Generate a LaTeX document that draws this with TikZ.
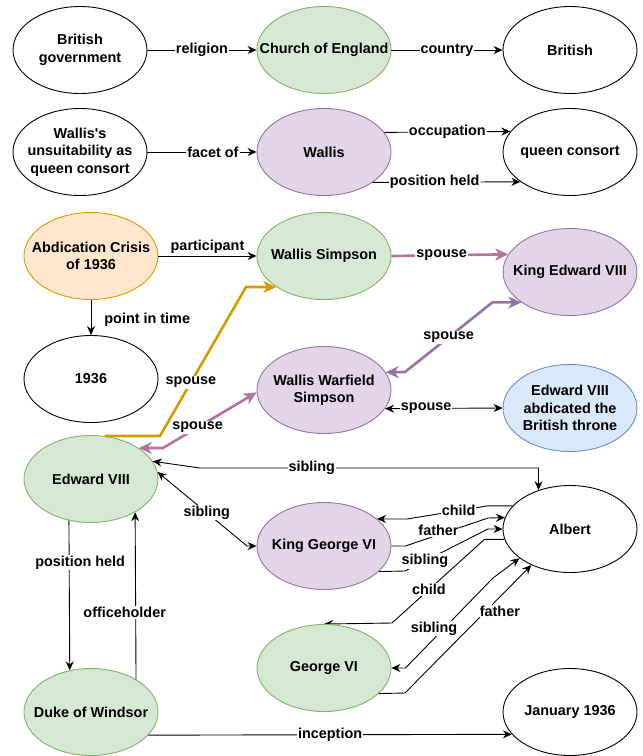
\documentclass[tikz,border=0pt]{standalone}
\usepackage{fontspec}
\setmainfont{Liberation Sans}
\usetikzlibrary{shapes.geometric,arrows.meta}
\pgfdeclarelayer{background}
\pgfsetlayers{background,main}
\definecolor{gfill}{HTML}{D5E8D4}\definecolor{gline}{HTML}{82B366}
\definecolor{pfill}{HTML}{E1D5E7}\definecolor{pline}{HTML}{9673A6}
\definecolor{ofill}{HTML}{FFE6CC}\definecolor{oline}{HTML}{D79B00}
\definecolor{bfill}{HTML}{DAE8FC}\definecolor{bline}{HTML}{6C8EBF}
\definecolor{pinkE}{HTML}{B5739D}
\begin{document}
\begin{tikzpicture}[x=1pt,y=-1pt,
  txt/.style={align=center,font=\bfseries\fontsize{14.4}{17.4}\selectfont,inner sep=0pt},
  wnode/.style={ellipse,draw=black,fill=white,line width=0.9pt,minimum width=134pt,minimum height=87pt,inner sep=0pt,label={[txt]center:#1}},
  gnode/.style={wnode={#1},fill=gfill,draw=gline},
  pnode/.style={wnode={#1},fill=pfill,draw=pline},
  onode/.style={wnode={#1},fill=ofill,draw=oline},
  bnode/.style={wnode={#1},fill=bfill,draw=bline},
  lbl/.style={fill=white,inner sep=1pt,font=\bfseries\fontsize{14.4}{17.4}\selectfont},
  tip/.tip={Stealth[length=9pt,width=8pt,inset=3pt]},
  btip/.tip={Stealth[length=13pt,width=12pt,inset=4pt]},
  arr/.style={line width=0.9pt,-tip},
  darr/.style={line width=0.9pt,tip-tip},
  thk/.style={line width=2.6pt,-btip},
  dthk/.style={line width=2.6pt,btip-btip}
]
\useasboundingbox (0,0) rectangle (643,756);

% nodes
\node[wnode={British\\government}] (bg) at (80,50) {};
\node[gnode={Church of England}] (coe) at (324,50) {};
\node[wnode={British}] (brit) at (570,50) {};
\node[wnode={Wallis\textquotesingle s\\unsuitability as\\queen consort}] (wu) at (80,152) {};
\node[pnode={Wallis}] (wal) at (324,152) {};
\node[wnode={queen consort}] (qc) at (570,152) {};
\node[onode={Abdication Crisis\\of 1936}] (ac) at (91,256) {};
\node[wnode={1936}] (y36) at (91,379) {};
\node[gnode={Wallis Simpson}] (ws) at (324,256) {};
\node[pnode={King Edward VIII}] (ke8) at (570,272) {};
\node[pnode={Wallis Warfield\\Simpson}] (wws) at (324,390) {};
\node[bnode={Edward VIII\\abdicated the\\British throne}] (ev8a) at (570,408) {};
\node[gnode={Edward VIII}] (ed8) at (91,479) {};
\node[pnode={King George VI}] (kg6) at (324,546) {};
\node[wnode={Albert}] (alb) at (570,529) {};
\node[gnode={George VI}] (g6) at (324,668) {};
\node[gnode={Duke of Windsor}] (duke) at (91,712) {};
\node[wnode={January 1936}] (jan) at (570,712) {};

% top rows
\draw[arr] (bg) -- node[lbl]{religion} (coe);
\draw[arr] (coe) -- node[lbl]{country} (brit);
\draw[arr] (wu) -- node[lbl,pos=0.6]{facet of} (wal);
\draw[arr] (wal.18.4) -- node[lbl]{occupation} (qc.161.6);
\draw[arr] (wal.328.7) -- node[lbl,pos=0.42]{position held} (qc.211.3);

% abdication
\draw[arr] (ac) -- node[lbl,above=1pt,fill=none]{participant} (ws);
\draw[arr] (ac) -- node[lbl,anchor=west,xshift=12pt,yshift=-2pt,fill=none]{point in time} (y36);

% spouse edges
\draw[thk,pinkE] (ws.east) -- node[lbl,pos=0.43,text=black]{spouse} (ke8.164.7);
\draw[dthk,pline] (ke8.212) -- ++(-29,0) -- node[lbl,text=black]{spouse} (405,372) -- (wws.16);
\draw[darr] (wws.343.7) -- node[lbl,pos=0.35]{spouse} (ev8a.west);
\draw[thk,oline] (ed8.72) -- ++(55,0) -- node[lbl,pos=0.36,text=black]{spouse} (246,287) -- (ws.213);
\draw[dthk,pinkE] (ed8.33) -- (163,448) -- node[lbl,pos=0.37,text=black]{spouse} (wws.182);

% Edward VIII relations
\coordinate (sibrow) at (0,468);
\draw[darr] (ed8.16) -- (200,468) -- node[lbl,pos=0.33]{sibling} (alb.129.4 |- sibrow) -- (alb.129.4);
\draw[darr] (ed8.6) -- node[lbl,pos=0.55]{sibling} (247,546) -- (kg6.west);
\draw[arr] (ed8.242.1) -- node[lbl,pos=0.28,xshift=11pt]{position held} (duke.117.9);
\draw[arr] (duke.36.1) -- node[lbl,pos=0.4,xshift=-11pt]{officeholder} (ed8.323.9);
\draw[arr] (duke.338.2) -- node[lbl]{inception} (jan.201.8);

% Albert relations
\draw[arr] (alb.158.4) -- ++(-25,0) -- node[lbl,pos=0.36]{child} (407,519) -- (kg6.27);
\draw[arr] (kg6.east) -- ++(14,0) -- node[lbl,pos=0.4,yshift=4pt]{father} (488,518) -- (alb.170.5);
\draw[arr] (kg6.335.8) -- (405,571) -- node[lbl,pos=0.24]{sibling} (488,529) -- (alb.west);
\begin{pgfonlayer}{background}
\draw[arr] (alb.189.5) -- ++(-20,0) -- node[lbl,pos=0.6]{child} (392,623) -- (g6.north);
\end{pgfonlayer}
\draw[darr] (g6.east) -- ++(14,0) -- node[lbl,pos=0.44,xshift=-10pt]{sibling} (493,578) -- (alb.210.6);
\draw[arr] (g6.335.8) -- (405,693) -- node[lbl,pos=0.64,xshift=14pt]{father} (alb.223.8);
\end{tikzpicture}
\end{document}
